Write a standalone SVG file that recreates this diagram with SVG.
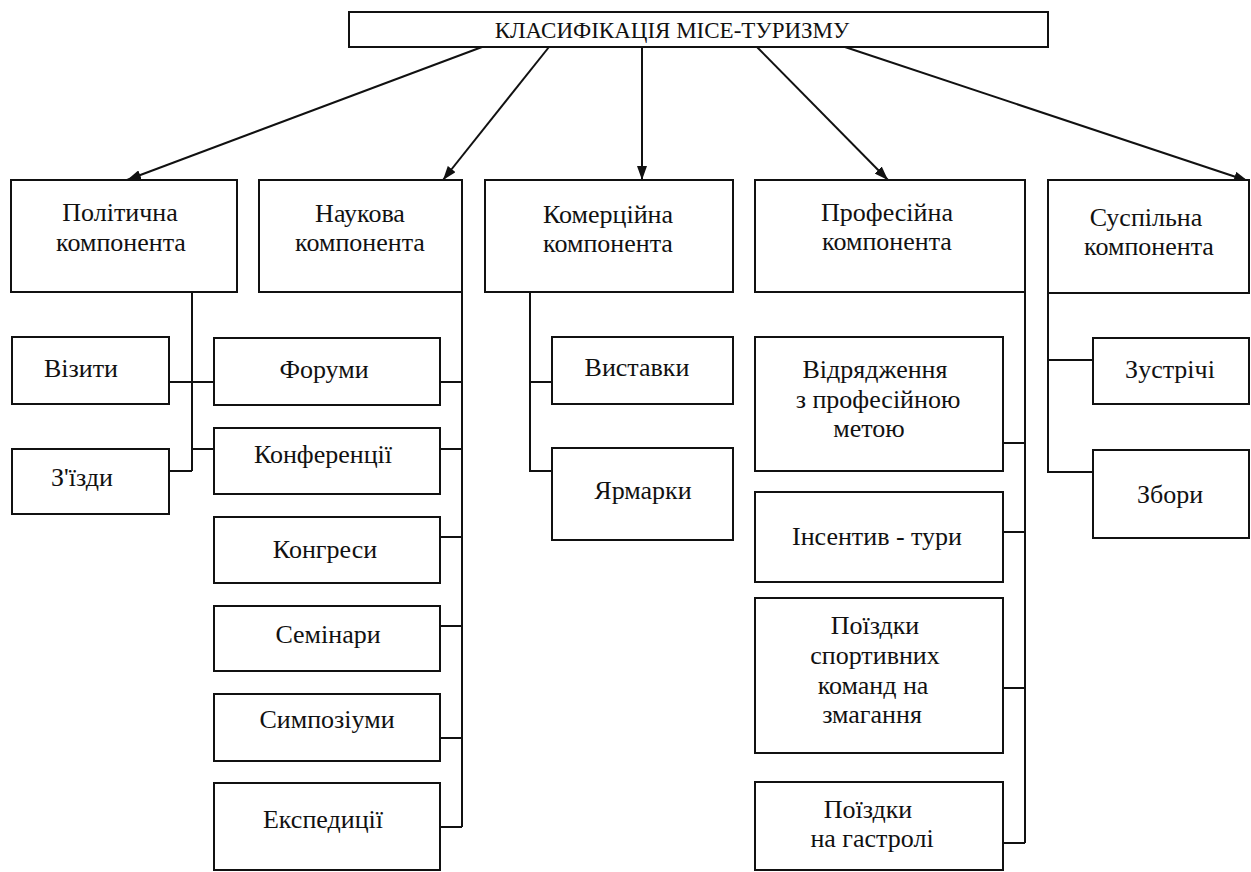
<svg xmlns="http://www.w3.org/2000/svg" width="1251" height="872" viewBox="0 0 1251 872">
<defs>
<marker id="ah" markerWidth="14" markerHeight="10" refX="14" refY="5" orient="auto" markerUnits="userSpaceOnUse">
<path d="M0,0 L14,5 L0,10 Z" fill="#111"/>
</marker>
</defs>
<rect width="1251" height="872" fill="#fff"/>
<g id="connectors" fill="none" stroke="#111" stroke-width="2">
<line x1="482" y1="47" x2="127" y2="180" marker-end="url(#ah)"/>
<line x1="549" y1="47" x2="443" y2="180" marker-end="url(#ah)"/>
<line x1="642" y1="47" x2="642" y2="180" marker-end="url(#ah)"/>
<line x1="757" y1="47" x2="888" y2="180" marker-end="url(#ah)"/>
<line x1="845" y1="47" x2="1248" y2="181" marker-end="url(#ah)"/>
<path d="M192,292 V471 M169,382 H214 M192,449 H214 M169,471 H192"/>
<path d="M462,292 V827 M440,382 H462 M440,449 H462 M440,537 H462 M440,626 H462 M440,738 H462 M440,827 H462"/>
<path d="M530,292 V471 H552 M530,382 H552"/>
<path d="M1025,292 V843 M1003,443 H1025 M1003,532 H1025 M1003,688 H1025 M1003,843 H1025"/>
<path d="M1048,293 V472 H1093 M1048,360 H1093"/>
</g>
<g id="boxes" fill="#fff" stroke="#111" stroke-width="2">
<rect id="title-box" x="349" y="12" width="699" height="35"/>
<rect id="political-box" x="11" y="180" width="226" height="112"/>
<rect id="science-box" x="259" y="180" width="203" height="112"/>
<rect id="commercial-box" x="485" y="180" width="248" height="112"/>
<rect id="professional-box" x="755" y="180" width="270" height="112"/>
<rect id="social-box" x="1048" y="180" width="201" height="113"/>
<rect id="visits-box" x="12" y="337" width="157" height="67"/>
<rect id="congresses-z-box" x="12" y="449" width="157" height="65"/>
<rect id="forums-box" x="214" y="338" width="226" height="67"/>
<rect id="conferences-box" x="214" y="428" width="226" height="66"/>
<rect id="congresses-box" x="214" y="517" width="226" height="66"/>
<rect id="seminars-box" x="214" y="606" width="226" height="65"/>
<rect id="symposia-box" x="214" y="694" width="226" height="67"/>
<rect id="expeditions-box" x="214" y="783" width="226" height="87"/>
<rect id="exhibitions-box" x="552" y="337" width="181" height="67"/>
<rect id="fairs-box" x="552" y="448" width="181" height="92"/>
<rect id="business-trips-box" x="755" y="337" width="248" height="134"/>
<rect id="incentive-box" x="755" y="492" width="248" height="90"/>
<rect id="sport-trips-box" x="755" y="598" width="248" height="155"/>
<rect id="tours-box" x="755" y="782" width="248" height="88"/>
<rect id="meetings-box" x="1093" y="338" width="156" height="66"/>
<rect id="assemblies-box" x="1093" y="450" width="156" height="88"/>
</g>
<g id="labels" fill="#111" text-anchor="middle" font-family="Liberation Serif, serif" font-size="26">
<g id="title"><text font-size="23" x="672" y="38">КЛАСИФІКАЦІЯ МІСЕ-ТУРИЗМУ</text></g>
<g id="political"><text x="120" y="221">Політична</text><text x="121" y="251">компонента</text></g>
<g id="science"><text x="360" y="222">Наукова</text><text x="360" y="251">компонента</text></g>
<g id="commercial"><text x="608" y="223">Комерційна</text><text x="608" y="252">компонента</text></g>
<g id="professional"><text x="887" y="221">Професійна</text><text x="887" y="250">компонента</text></g>
<g id="social"><text x="1146" y="226">Суспільна</text><text x="1149" y="255">компонента</text></g>
<g id="visits"><text x="81" y="377">Візити</text></g>
<g id="congresses-z"><text x="82" y="486">З&#39;їзди</text></g>
<g id="forums"><text x="324" y="378">Форуми</text></g>
<g id="conferences"><text x="323" y="463">Конференції</text></g>
<g id="congresses"><text x="325" y="558">Конгреси</text></g>
<g id="seminars"><text x="328" y="643">Семінари</text></g>
<g id="symposia"><text x="327" y="728">Симпозіуми</text></g>
<g id="expeditions"><text x="323" y="828">Експедиції</text></g>
<g id="exhibitions"><text x="637" y="376">Виставки</text></g>
<g id="fairs"><text x="643" y="499">Ярмарки</text></g>
<g id="business-trips"><text x="875" y="378">Відрядження</text><text x="878" y="408">з професійною</text><text x="869" y="437">метою</text></g>
<g id="incentive"><text x="877" y="545">Інсентив - тури</text></g>
<g id="sport-trips"><text x="875" y="634">Поїздки</text><text x="875" y="664">спортивних</text><text x="873" y="694">команд на</text><text x="872" y="723">змагання</text></g>
<g id="tours"><text x="868" y="818">Поїздки</text><text x="872" y="847">на гастролі</text></g>
<g id="meetings"><text x="1170" y="378">Зустрічі</text></g>
<g id="assemblies"><text x="1170" y="503">Збори</text></g>
</g>
</svg>
